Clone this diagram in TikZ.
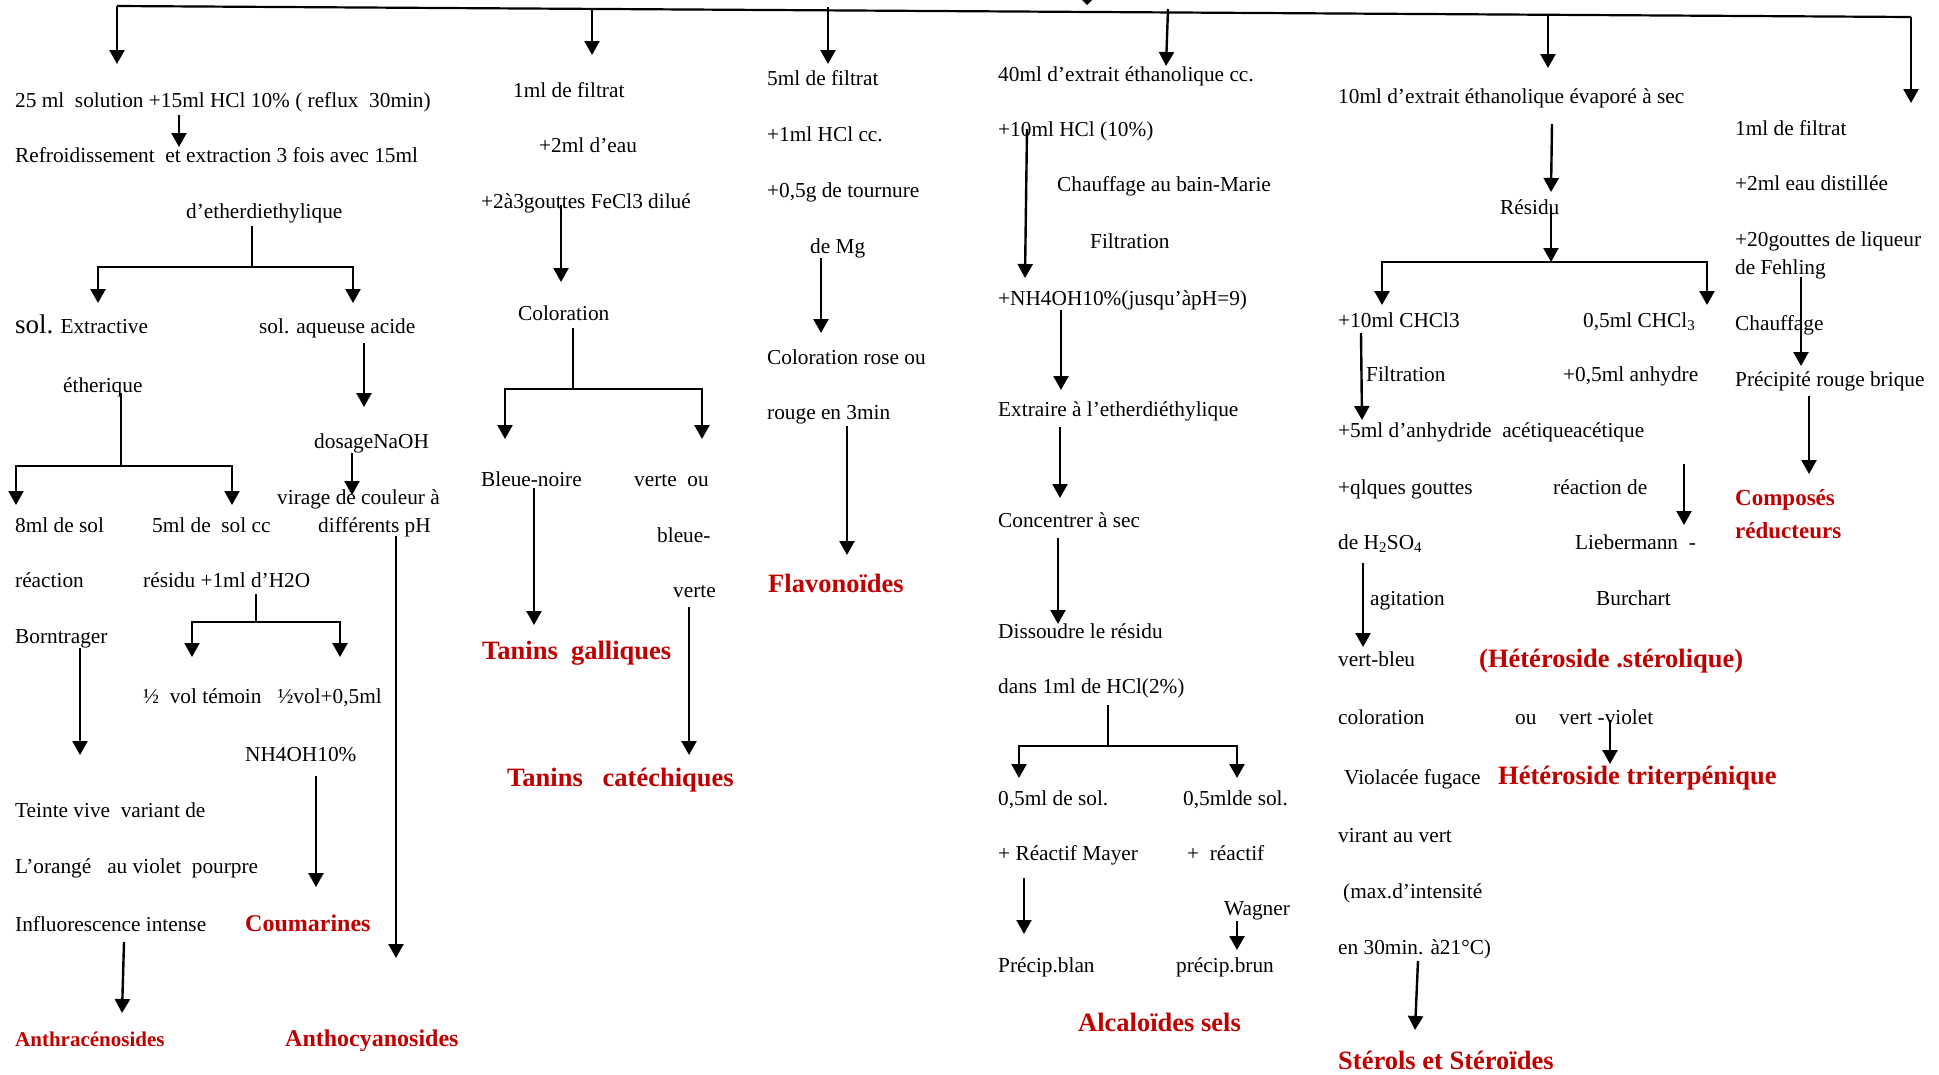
\documentclass[tikz,border=0pt]{standalone}
\usepackage{fontspec}
\setmainfont{Liberation Serif}
\usetikzlibrary{arrows.meta}
\definecolor{resred}{RGB}{192,0,0}

% straight arrow between two named points
\newcommand\flowarrow[5]{%
  \coordinate (#1a) at (#2,#3);
  \coordinate (#1b) at (#4,#5);
  \draw[arr] (#1a) -- (#1b);}
% stem, horizontal bar and two arrows going down
\newcommand\forkdown[7]{%
  \coordinate (#1s) at (#2,#3);
  \coordinate (#1m) at (#2,#4);
  \coordinate (#1l) at (#5,#7);
  \coordinate (#1r) at (#6,#7);
  \draw[lnk] (#1s) -- (#1m);
  \draw[arr] (#1m) -| (#1l);
  \draw[arr] (#1m) -| (#1r);}

\tikzset{
  txt/.style={anchor=base west, inner sep=0pt, font=\fontsize{21.3}{25}\selectfont},
  res/.style={anchor=base west, inner sep=0pt, text=resred, font=\bfseries\fontsize{26.5}{30}\selectfont},
  arr/.style={line width=2.4pt, -{Triangle[width=15pt,length=14pt]}},
  lnk/.style={line width=2.2pt},
}

\begin{document}
\begin{tikzpicture}[x=1pt,y=-1pt]
\useasboundingbox (0,0) rectangle (1939,1074);
\fill[white] (0,0) rectangle (1939,1074);

% ---------- main distribution line ----------
\coordinate (busL) at (117,6);
\coordinate (busR) at (1911,17);
\draw[lnk] (busL) -- (busR);
\coordinate (c1t) at (117,64);
\draw[arr] (busL) -- (c1t);
\coordinate (c6t) at (1911,103);
\draw[arr] (busR) -- (c6t);
\flowarrow{b2}{592}{9}{592}{55}
\flowarrow{b3}{828}{7}{828}{64}
\flowarrow{b4}{1168}{9}{1166}{66}
\flowarrow{b5}{1548}{16}{1548}{68}
\fill (1082,0) -- (1092,0) -- (1087,5) -- cycle;

% ---------- column 1 : anthracenosides, coumarines, anthocyanosides ----------
\node[txt] (a1) at (15,107) {25 ml\ \ solution +15ml HCl 10\% ( reflux\ \ 30min)};
\node[txt] (a2) at (15,162) {Refroidissement\ \ et extraction 3 fois avec 15ml};
\node[txt] (a3) at (186,218) {d’etherdiethylique};
\node[txt] (a4) at (15,333) {{\fontsize{27}{30}\selectfont sol.} Extractive};
\node[txt] (a5) at (259,333) {sol. aqueuse acide};
\node[txt] (a6) at (63,392) {étherique};
\node[txt] (a7) at (314,448) {dosageNaOH};
\node[txt] (a8) at (277,504) {virage de couleur à};
\node[txt] (a9) at (318,532) {différents pH};
\node[txt] (a10) at (15,532) {8ml de sol};
\node[txt] (a11) at (152,532) {5ml de\ \ sol cc};
\node[txt] (a12) at (15,587) {réaction};
\node[txt] (a13) at (143,587) {résidu +1ml d’H2O};
\node[txt] (a14) at (15,643) {Borntrager};
\node[txt] (a15) at (143,703) {½\ \ vol témoin\ \ \ ½vol+0,5ml};
\node[txt] (a16) at (245,761) {NH4OH10\%};
\node[txt] (a17) at (15,817) {Teinte vive\ \ variant de};
\node[txt] (a18) at (15,873) {L’orangé\ \ \ au violet\ \ pourpre};
\node[txt] (a19) at (15,931) {Influorescence intense};
\node[res, font=\bfseries\fontsize{24}{28}\selectfont] (ra1) at (245,931) {Coumarines};
\node[res, font=\bfseries\fontsize{21}{25}\selectfont] (ra2) at (15,1046) {Anthracénosides};
\node[res, font=\bfseries\fontsize{24}{28}\selectfont] (ra3) at (285,1046) {Anthocyanosides};

\flowarrow{e1}{179}{115}{179}{147}
\flowarrow{e2}{364}{343}{364}{407}
\flowarrow{e3}{352}{453}{352}{495}
\flowarrow{e4}{396}{536}{396}{958}
\flowarrow{e5}{80}{648}{80}{755}
\flowarrow{e6}{316}{776}{316}{887}
\flowarrow{e7}{124}{942}{122}{1013}
\forkdown{f1}{252}{226}{267}{98}{353}{303}
\forkdown{f2}{121}{393}{466}{16}{232}{505}
\forkdown{f3}{256}{594}{622}{192}{340}{657}

% ---------- column 2 : tanins ----------
\node[txt] (t1) at (513,97) {1ml de filtrat};
\node[txt] (t2) at (539,152) {+2ml d’eau};
\node[txt] (t3) at (481,208) {+2à3gouttes FeCl3 dilué};
\node[txt] (t4) at (518,320) {Coloration};
\node[txt] (t5) at (481,486) {Bleue-noire};
\node[txt] (t6) at (634,486) {verte\ \ ou};
\node[txt] (t7) at (657,542) {bleue-};
\node[txt] (t8) at (673,597) {verte};
\node[res] (rt1) at (482,659) {Tanins\ \ galliques};
\node[res] (rt2) at (507,786) {Tanins\ \ \ catéchiques};

\flowarrow{g1}{561}{205}{561}{282}
\flowarrow{g2}{534}{488}{534}{625}
\flowarrow{g3}{689}{607}{689}{755}
\forkdown{f4}{573}{328}{389}{505}{702}{439}

% ---------- column 3 : flavonoides ----------
\node[txt] (v1) at (767,85) {5ml de filtrat};
\node[txt] (v2) at (767,141) {+1ml HCl cc.};
\node[txt] (v3) at (767,197) {+0,5g de tournure};
\node[txt] (v4) at (810,253) {de Mg};
\node[txt] (v5) at (767,364) {Coloration rose ou};
\node[txt] (v6) at (767,419) {rouge en 3min};
\node[res] (rv1) at (768,592) {Flavonoïdes};

\flowarrow{h1}{821}{258}{821}{333}
\flowarrow{h2}{847}{426}{847}{555}

% ---------- column 4 : alcaloides ----------
\node[txt] (k1) at (998,81) {40ml d’extrait éthanolique cc.};
\node[txt] (k2) at (998,136) {+10ml HCl (10\%)};
\node[txt] (k3) at (1057,191) {Chauffage au bain-Marie};
\node[txt] (k4) at (1090,248) {Filtration};
\node[txt] (k5) at (998,305) {+NH4OH10\%(jusqu’àpH=9)};
\node[txt] (k6) at (998,416) {Extraire à l’etherdiéthylique};
\node[txt] (k7) at (998,527) {Concentrer à sec};
\node[txt] (k8) at (998,638) {Dissoudre le résidu};
\node[txt] (k9) at (998,693) {dans 1ml de HCl(2\%)};
\node[txt] (k10) at (998,805) {0,5ml de sol.};
\node[txt] (k11) at (1183,805) {0,5mlde sol.};
\node[txt] (k12) at (998,860) {+ Réactif Mayer};
\node[txt] (k13) at (1187,860) {+\ \ réactif};
\node[txt] (k14) at (1224,915) {Wagner};
\node[txt] (k15) at (998,972) {Précip.blan};
\node[txt] (k16) at (1176,972) {précip.brun};
\node[res] (rk1) at (1078,1031) {Alcaloïdes sels};

\flowarrow{m1}{1027}{129}{1025}{278}
\flowarrow{m2}{1061}{310}{1061}{390}
\flowarrow{m3}{1060}{427}{1060}{498}
\flowarrow{m4}{1058}{538}{1058}{624}
\flowarrow{m5}{1024}{878}{1024}{934}
\flowarrow{m6}{1237}{921}{1237}{950}
\forkdown{f5}{1108}{705}{746}{1019}{1237}{778}

% ---------- column 5 : sterols, heterosides ----------
\node[txt] (s1) at (1338,103) {10ml d’extrait éthanolique évaporé à sec};
\node[txt] (s2) at (1500,214) {Résidu};
\node[txt] (s3) at (1338,327) {+10ml CHCl3};
\node[txt] (s4) at (1583,327) {0,5ml CHCl\textsubscript{3}};
\node[txt] (s5) at (1366,381) {Filtration};
\node[txt] (s6) at (1563,381) {+0,5ml anhydre};
\node[txt] (s7) at (1338,437) {+5ml d’anhydride\ \ acétiqueacétique};
\node[txt] (s8) at (1338,494) {+qlques gouttes};
\node[txt] (s9) at (1553,494) {réaction de};
\node[txt] (s10) at (1338,549) {de H\textsubscript{2}SO\textsubscript{4}};
\node[txt] (s11) at (1575,549) {Liebermann\ \ -};
\node[txt] (s12) at (1370,605) {agitation};
\node[txt] (s13) at (1596,605) {Burchart};
\node[txt] (s14) at (1338,666) {vert-bleu};
\node[res] (rs1) at (1479,667) {(Hétéroside .stérolique)};
\node[txt] (s15) at (1338,724) {coloration};
\node[txt] (s16) at (1515,724) {ou};
\node[txt] (s17) at (1559,724) {vert -violet};
\node[txt] (s18) at (1344,784) {Violacée fugace};
\node[res] (rs2) at (1498,784) {Hétéroside triterpénique};
\node[txt] (s19) at (1338,842) {virant au vert};
\node[txt] (s20) at (1343,898) {(max.d’intensité};
\node[txt] (s21) at (1338,954) {en 30min. à21°C)};
\node[res] (rs3) at (1338,1069) {Stérols et Stéroïdes};

\flowarrow{p1}{1552}{124}{1551}{192}
\flowarrow{p2}{1551}{207}{1551}{262}
\coordinate (p3l) at (1382,305);
\coordinate (p3r) at (1707,305);
\draw[arr] (p2b) -| (p3l);
\draw[arr] (p2b) -| (p3r);
\flowarrow{p4}{1361}{333}{1362}{420}
\flowarrow{p5}{1684}{464}{1684}{525}
\flowarrow{p6}{1363}{563}{1363}{647}
\flowarrow{p7}{1610}{720}{1610}{764}
\flowarrow{p8}{1418}{961}{1415}{1030}

% ---------- column 6 : composes reducteurs ----------
\node[txt] (q1) at (1735,135) {1ml de filtrat};
\node[txt] (q2) at (1735,190) {+2ml eau distillée};
\node[txt] (q3) at (1735,246) {+20gouttes de liqueur};
\node[txt] (q4) at (1735,274) {de Fehling};
\node[txt] (q5) at (1735,330) {Chauffage};
\node[txt] (q6) at (1735,386) {Précipité rouge brique};
\node[res, font=\bfseries\fontsize{23}{27}\selectfont] (rq1) at (1735,505) {Composés};
\node[res, font=\bfseries\fontsize{23}{27}\selectfont] (rq2) at (1735,538) {réducteurs};

\flowarrow{u1}{1801}{277}{1801}{366}
\flowarrow{u2}{1809}{396}{1809}{474}
\end{tikzpicture}
\end{document}
